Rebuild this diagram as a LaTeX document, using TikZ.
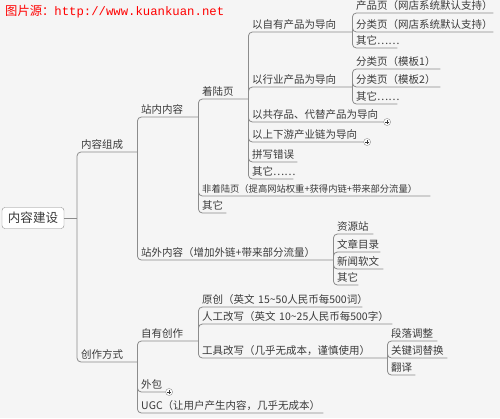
\documentclass[tikz,border=0pt]{standalone}
\usepackage{fontspec}
\setmainfont{Noto Sans CJK SC}
\newfontfamily\urlfont{Liberation Mono}
\usetikzlibrary{calc}
\definecolor{bgcol}{RGB}{245,245,245}
\definecolor{txtcol}{RGB}{58,58,58}
\definecolor{linecol}{RGB}{140,140,140}

\begin{document}
\begin{tikzpicture}[x=1pt, y=-1pt,
topic/.style={anchor=south west, inner xsep=4pt, inner ysep=1.5pt, text height=8pt, text depth=2pt,
  text width=#1, align=left, font=\fontsize{10.5}{12}\selectfont, text=txtcol},
rootbox/.style={draw=linecol, fill=white, rounded corners=3pt, minimum width=62pt, minimum height=21pt,
  inner sep=0pt, font=\fontsize{12.5}{14}\selectfont, text=txtcol},
fold/.style={circle, draw=linecol, fill=white, minimum size=7pt, inner sep=0pt, anchor=west,
  path picture={\draw[txtcol, line width=.6pt]
    ([xshift=-1.8pt]path picture bounding box.center) -- ([xshift=1.8pt]path picture bounding box.center)
    ([yshift=-1.8pt]path picture bounding box.center) -- ([yshift=1.8pt]path picture bounding box.center);}},
link/.style={draw=linecol, line width=.8pt, rounded corners=4pt}]

%%%%%% SETTINGS %%%%%%%%%%

\useasboundingbox (0,0) rectangle (500,418);
\fill[bgcol] (0,0) rectangle (500,418);

\node[anchor=west, text=red, inner sep=0pt] (src) at (5,12)
  {\fontsize{12.3}{14}\selectfont 图片源：{\urlfont http://www.kuankuan.net}};

%%%%%% TOPICS %%%%%%%%%%

\node[rootbox] (root) at (33,218) {内容建设};
\coordinate (rootout) at (77,218);

\node[topic=52pt] (zc) at (77,152) {内容组成};
\node[topic=52pt] (cz) at (77,362) {创作方式};

\node[topic=53pt] (zn) at (137,117) {站内内容};
\node[topic=188pt] (zw) at (137,260) {站外内容（增加外链+带来部分流量）};

\node[topic=42pt] (zl) at (198,99) {着陆页};
\node[topic=224pt, font=\fontsize{9.3}{11}\selectfont] (fz) at (198,196) {非着陆页（提高网站权重+获得内链+带来部分流量）};
\node[topic=20pt] (qt1) at (198,213) {其它};

\node[topic=96pt] (yz) at (248,32) {以自有产品为导向};
\node[topic=96pt] (yh) at (248,87) {以行业产品为导向};
\node[topic=127pt] (yg) at (248,122) {以共存品、代替产品为导向};
\node[topic=107pt] (ys) at (248,142) {以上下游产业链为导向};
\node[topic=41pt] (px) at (248,162) {拼写错误};
\node[topic=37pt] (qt2) at (248,179) {其它……};

\node[topic=133pt] (cp) at (352,13) {产品页（网店系统默认支持）};
\node[topic=133pt] (fl) at (352,32) {分类页（网店系统默认支持）};
\node[topic=37pt] (qt3) at (352,48) {其它……};

\node[topic=80pt] (mb1) at (352,69) {分类页（模板1）};
\node[topic=80pt] (mb2) at (352,87) {分类页（模板2）};
\node[topic=37pt] (qt4) at (352,104) {其它……};

\node[topic=32pt] (zyz) at (333,234) {资源站};
\node[topic=39pt] (wz) at (333,252) {文章目录};
\node[topic=42pt] (xw) at (333,269) {新闻软文};
\node[topic=17pt] (qt5) at (333,285) {其它};

\node[topic=53pt] (zycz) at (137,341) {自有创作};
\node[topic=20pt] (wb) at (137,392) {外包};
\node[topic=178pt] (ugc) at (137,413) {UGC（让用户产生内容，几乎无成本）};

\node[topic=156pt] (yc) at (198,307) {原创（英文~15\textasciitilde50人民币每500词）};
\node[topic=186pt] (rg) at (198,324) {人工改写（英文~10\textasciitilde25人民币每500字）};
\node[topic=181pt] (gj) at (198,358) {工具改写（几乎无成本，谨慎使用）};

\node[topic=42pt] (dl) at (387,341) {段落调整};
\node[topic=52pt] (gjc) at (387,358) {关键词替换};
\node[topic=20pt] (fy) at (387,375) {翻译};

%%%%%% CONNECTORS %%%%%%%%%%

\draw[link] (root.east) -- (rootout);
\foreach \c in {zc, cz}{\draw[link] (rootout) |- (\c.south east);}
\foreach \c in {zn, zw}{\draw[link] (zc.south east) |- (\c.south east);}
\foreach \c in {zl, fz, qt1}{\draw[link] (zn.south east) |- (\c.south east);}
\foreach \c in {yz, yh, yg, ys, px, qt2}{\draw[link] (zl.south east) |- (\c.south east);}
\foreach \c in {cp, fl, qt3}{\draw[link] (yz.south east) |- (\c.south east);}
\foreach \c in {mb1, mb2, qt4}{\draw[link] (yh.south east) |- (\c.south east);}
\foreach \c in {zyz, wz, xw, qt5}{\draw[link] (zw.south east) |- (\c.south east);}
\foreach \c in {zycz, wb, ugc}{\draw[link] (cz.south east) |- (\c.south east);}
\foreach \c in {yc, rg, gj}{\draw[link] (zycz.south east) |- (\c.south east);}
\foreach \c in {dl, gjc, fy}{\draw[link] (gj.south east) |- (\c.south east);}

% collapsed branches
\node[fold] (ygfold) at (yg.south east) {};
\node[fold] (ysfold) at (ys.south east) {};
\node[fold] (wbfold) at (wb.south east) {};
\end{tikzpicture}
\end{document}
